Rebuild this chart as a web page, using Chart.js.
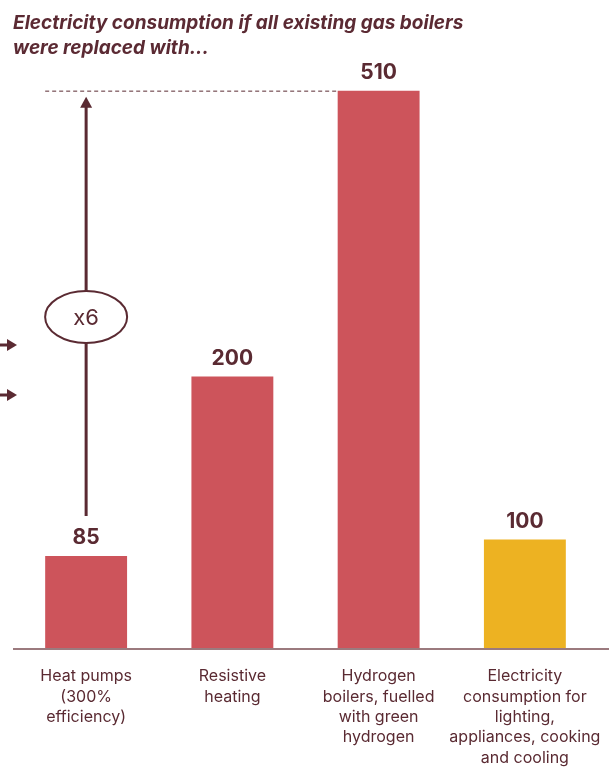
<!DOCTYPE html>
<html>
<head>
<meta charset="utf-8">
<script src="https://cdn.jsdelivr.net/npm/chart.js@4"></script>
<style>
  html, body { margin: 0; padding: 0; background: #fff; }
  #wrap { position: relative; width: 616px; height: 769px; }
  #title {
    position: absolute; left: 13px; top: 10px;
    font: italic 700 19px Inter, "Noto Sans", sans-serif;
    line-height: 25px; color: #5b2a33;
  }
  canvas { display: block; }
</style>
</head>
<body>
<div id="wrap">
  <canvas id="chart" width="616" height="769"></canvas>
  <div id="title">Electricity consumption if all existing gas boilers<br>were replaced with...</div>
</div>
<script>
// --- Data ---
const categories = [
    ['Heat pumps', '(300%', 'efficiency)'],
    ['Resistive', 'heating'],
    ['Hydrogen', 'boilers, fuelled', 'with green', 'hydrogen'],
    ['Electricity', 'consumption for', 'lighting,', 'appliances, cooking', 'and cooling']
];
// bar heights as drawn in the picture
const barValues = [85, 249, 510, 100];
// numbers printed above the bars
const valueLabels = ['85', '200', '510', '100'];
const barColors = ['#cd545b', '#cd545b', '#cd545b', '#edb222'];
const ratioLabel = 'x6';

const DARK = '#5a2a32';

// --- Annotations: value labels, dashed line, x6 arrow ---
const annotations = {
    id: 'annotations',
    afterDatasetsDraw(chart) {
        const ctx = chart.ctx;
        const y = chart.scales.y;
        const bars = chart.getDatasetMeta(0).data;
        const area = chart.chartArea;

        ctx.save();
        // baseline runs a little past the last bar
        ctx.strokeStyle = '#9b7a7e';
        ctx.lineWidth = 2;
        ctx.beginPath();
        ctx.moveTo(area.left, area.bottom);
        ctx.lineTo(area.right + 11, area.bottom);
        ctx.stroke();

        // value labels
        ctx.fillStyle = DARK;
        ctx.font = '700 21px Inter, "Noto Sans", sans-serif';
        ctx.textAlign = 'center';
        ctx.textBaseline = 'middle';
        bars.forEach((b, i) => ctx.fillText(valueLabels[i], b.x, b.y - 18));

        // dashed line at the top of the biggest bar
        const first = bars[0], big = bars[2];
        const topY = y.getPixelForValue(barValues[2]);
        ctx.strokeStyle = DARK;
        ctx.lineWidth = 1;
        ctx.setLineDash([4, 3]);
        ctx.beginPath();
        ctx.moveTo(first.x - first.width / 2, topY + 0.5);
        ctx.lineTo(big.x - big.width / 2, topY + 0.5);
        ctx.stroke();
        ctx.setLineDash([]);

        // vertical arrow from first bar up to the dashed line
        const ax = first.x;
        const tipY = topY + 6;
        ctx.lineWidth = 3;
        ctx.beginPath();
        ctx.moveTo(ax, first.y - 40);
        ctx.lineTo(ax, tipY + 8);
        ctx.stroke();
        ctx.fillStyle = DARK;
        ctx.beginPath();
        ctx.moveTo(ax, tipY);
        ctx.lineTo(ax - 6, tipY + 11);
        ctx.lineTo(ax + 6, tipY + 11);
        ctx.closePath();
        ctx.fill();

        // x6 ellipse
        const ey = 317;
        ctx.fillStyle = '#fff';
        ctx.lineWidth = 2;
        ctx.beginPath();
        ctx.ellipse(ax, ey, 41, 26, 0, 0, Math.PI * 2);
        ctx.fill();
        ctx.stroke();
        ctx.fillStyle = DARK;
        ctx.font = '400 22px Inter, "Noto Sans", sans-serif';
        ctx.fillText(ratioLabel, ax, ey + 1);

        // small arrows cut off at the left edge
        [345, 395].forEach(ay => {
            ctx.fillStyle = DARK;
            ctx.fillRect(0, ay - 1.5, 9, 3);
            ctx.beginPath();
            ctx.moveTo(7, ay - 6);
            ctx.lineTo(17, ay);
            ctx.lineTo(7, ay + 6);
            ctx.closePath();
            ctx.fill();
        });
        ctx.restore();
    }
};

new Chart(document.getElementById('chart'), {
    type: 'bar',
    data: {
        labels: categories,
        datasets: [{
            data: barValues,
            backgroundColor: barColors,
            borderWidth: 0,
            barPercentage: 0.56,
            categoryPercentage: 1
        }]
    },
    options: {
        responsive: false,
        animation: false,
        layout: { padding: { top: 60, left: 13, right: 18, bottom: 0 } },
        plugins: { legend: { display: false }, tooltip: { enabled: false } },
        scales: {
            x: {
                grid: { display: false, drawTicks: false },
                border: { display: false },
                afterFit(scale) {
                    scale.height = 120;
                    scale.paddingLeft = 0;
                    scale.paddingRight = 0;
                },
                ticks: {
                    color: DARK,
                    font: { family: 'Inter, "Noto Sans", sans-serif', size: 16, lineHeight: 1.28 },
                    padding: 17,
                    maxRotation: 0,
                    autoSkip: false
                }
            },
            y: { display: false, min: 0, max: 538 }
        }
    },
    plugins: [annotations]
});
</script>
</body>
</html>
